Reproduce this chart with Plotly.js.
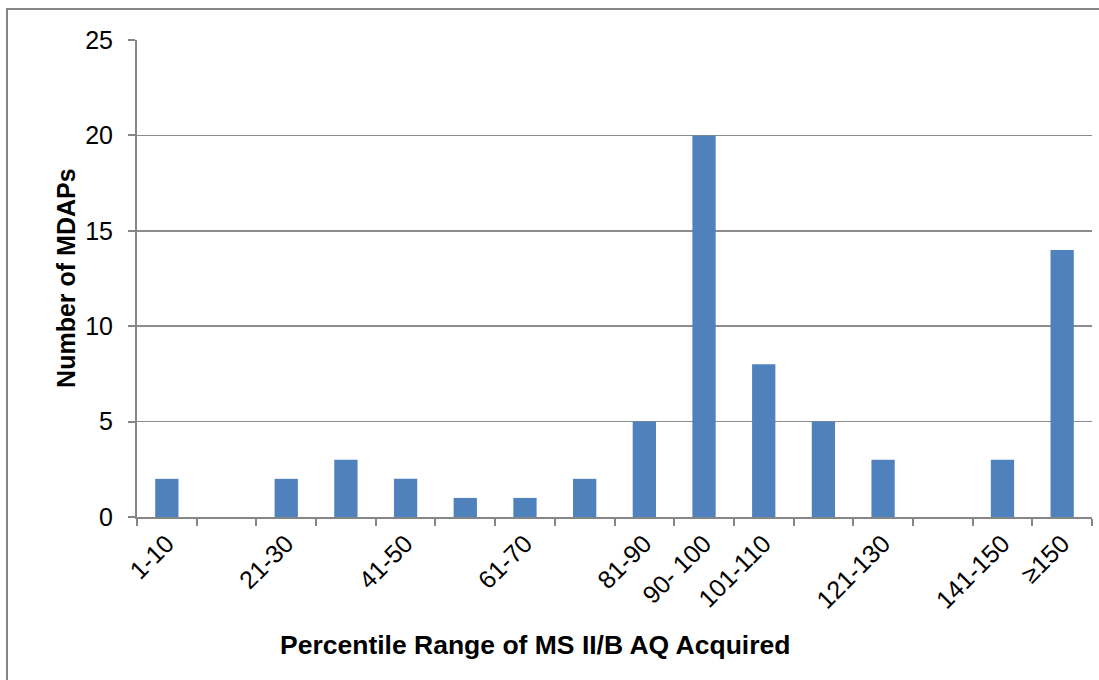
<!DOCTYPE html>
<html>
<head>
<meta charset="utf-8">
<script src="https://cdn.plot.ly/plotly-3.0.1.min.js"></script>
<style>
html,body{margin:0;padding:0;overflow:hidden;background:#fff;width:1099px;height:680px;}
#chart{position:absolute;left:0;top:0;width:1099px;height:680px;}
#frame{position:absolute;left:6px;top:8px;width:1200px;height:800px;border-left:2px solid #868686;border-top:2px solid #868686;pointer-events:none;}
</style>
</head>
<body>
<div id="chart"></div>
<div id="frame"></div>
<script>
const categories = ["1-10","11-20","21-30","31-40","41-50","51-60","61-70","71-80","81-90","90- 100","101-110","111-120","121-130","131-140","141-150","≥150"];
const tickLabels = ["1-10","","21-30","","41-50","","61-70","","81-90","90- 100","101-110","","121-130","","141-150","≥150"];
const counts = [2,0,2,3,2,1,1,2,5,20,8,5,3,0,3,14];
const yTicks = [0,5,10,15,20,25];
const xTitle = "Percentile Range of MS II/B AQ Acquired";
const yTitle = "Number of MDAPs";

const trace = {
  type: "bar",
  x: categories,
  y: counts,
  marker: {color: "#4F81BD", line: {width: 0}},
  hoverinfo: "x+y"
};

const layout = {
  width: 1099, height: 680,
  margin: {l: 137, r: 7, t: 40, b: 163},
  paper_bgcolor: "rgba(0,0,0,0)",
  plot_bgcolor: "#fff",
  bargap: 0.61,
  showlegend: false,
  font: {family: "Liberation Sans, Arial, sans-serif", color: "#000", size: 25},
  xaxis: {
    type: "category",
    tickmode: "array",
    tickvals: categories,
    ticktext: tickLabels,
    tickson: "boundaries",
    ticks: "outside",
    ticklen: 7,
    tickwidth: 2,
    tickcolor: "#868686",
    tickangle: -45,
    tickfont: {size: 25},
    showline: true,
    linecolor: "#868686",
    linewidth: 2,
    showgrid: false,
    zeroline: false
  },
  yaxis: {
    range: [0, 25],
    tickmode: "array",
    tickvals: yTicks,
    ticks: "outside",
    ticklen: 7,
    tickwidth: 2,
    tickcolor: "#868686",
    tickfont: {size: 25},
    showline: true,
    linecolor: "#868686",
    linewidth: 2,
    showgrid: true,
    gridcolor: "#8c8c8c",
    gridwidth: 1.5,
    zeroline: false,
    ticklabelstandoff: 10
  },
  annotations: [
    {text: "<b>" + xTitle + "</b>", xref: "paper", yref: "paper", x: 0.4168, xanchor: "center",
     y: -0.268, yanchor: "middle", showarrow: false, font: {size: 26.5}},
    {text: "<b>" + yTitle + "</b>", xref: "paper", yref: "paper", x: -0.075, xanchor: "center",
     y: 0.5, yanchor: "middle", textangle: -90, showarrow: false, font: {size: 25}}
  ]
};

Plotly.newPlot("chart", [trace], layout, {displayModeBar: false, staticPlot: true});
</script>
</body>
</html>
